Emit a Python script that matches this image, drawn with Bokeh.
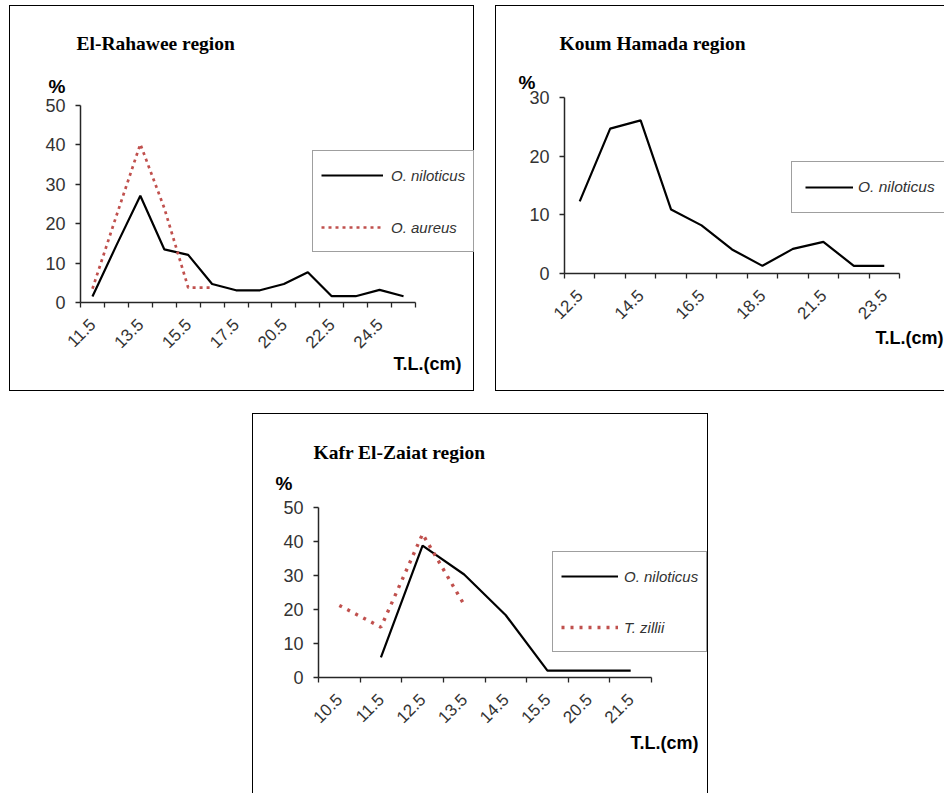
import math
from bokeh.plotting import figure
from bokeh.models import Range1d, FixedTicker, Label, Legend, LegendItem, Spacer
from bokeh.layouts import row, column
from bokeh.embed import file_html
from bokeh.resources import INLINE

nan = float("nan")

# ---------------- data ----------------
# El-Rahawee region
rah_tl = ["11.5", "12.5", "13.5", "14.5", "15.5", "16.5", "17.5", "18.5",
          "20.5", "21.5", "22.5", "23.5", "24.5", "25.5"]
rah_shown = ["11.5", "13.5", "15.5", "17.5", "20.5", "22.5", "24.5"]
rah_niloticus = [1.5, 14.5, 27.1, 13.5, 12.1, 4.7, 3.1, 3.1, 4.7, 7.7, 1.6, 1.6, 3.2, 1.6]
rah_aureus = [3.5, 22.0, 40.2, 24.0, 3.8, 3.8, nan, nan, nan, nan, nan, nan, nan, nan]

# Koum Hamada region
kou_tl = ["12.5", "13.5", "14.5", "15.5", "16.5", "17.5", "18.5", "20.5",
          "21.5", "22.5", "23.5"]
kou_shown = ["12.5", "14.5", "16.5", "18.5", "21.5", "23.5"]
kou_niloticus = [12.3, 24.7, 26.1, 10.9, 8.2, 4.1, 1.3, 4.2, 5.4, 1.3, 1.3]

# Kafr El-Zaiat region
kaf_tl = ["10.5", "11.5", "12.5", "13.5", "14.5", "15.5", "20.5", "21.5"]
kaf_shown = kaf_tl
kaf_niloticus = [nan, 5.9, 38.8, 30.3, 18.3, 2.0, 2.0, 2.0]
kaf_zillii = [21.2, 14.8, 42.2, 21.4, nan, nan, nan, nan]

y_ticks_50 = [0, 10, 20, 30, 40, 50]
y_ticks_30 = [0, 10, 20, 30]

RED = "#c0504d"
TXT = "#333333"
AX = "#262626"


class Panel:
    """A figure whose frame fills the whole canvas; the axes sit inside it."""

    def __init__(self, cats, shown, ymax, yticks, canvas, plot_px, shadow):
        cx, cy, w, h = canvas            # canvas box on the page
        px0, px1, py0, py1 = plot_px     # pixel span of the axes (x0, x_end, y0, y_top)
        n = len(cats)
        self.cx, self.cy, self.w, self.h = cx, cy, w, h
        ux = (px1 - px0) / n
        uy = (py0 - py1) / ymax
        xr = Range1d((cx - px0) / ux, (cx + w - px0) / ux)
        yr = Range1d(-(cy + h - py0) / uy, (py0 - cy) / uy)
        p = figure(width=w, height=h, output_backend="svg", toolbar_location=None,
                   x_range=xr, y_range=yr, min_border=0,
                   min_border_left=0, min_border_right=0,
                   min_border_top=0, min_border_bottom=0,
                   background_fill_color=None, border_fill_color=None,
                   outline_line_color=None)
        p.grid.visible = False
        p.styles = {"box-shadow": shadow}
        self.p = p
        self.xs = [i + 0.5 for i in range(n)]
        xs = self.xs

        xa = p.xaxis[0]
        xa.fixed_location = 0
        xa.bounds = (0, n)
        xa.ticker = FixedTicker(ticks=[xs[i] for i, c in enumerate(cats) if c in shown],
                                minor_ticks=list(range(n + 1)))
        xa.major_label_overrides = {xs[i]: c for i, c in enumerate(cats) if c in shown}
        xa.major_tick_line_color = None
        xa.minor_tick_in = 0
        xa.minor_tick_out = 5
        xa.minor_tick_line_color = AX
        xa.minor_tick_line_width = 1.3
        xa.axis_line_color = AX
        xa.axis_line_width = 1.5
        xa.major_label_orientation = math.pi / 4
        xa.major_label_text_font = "Liberation Sans"
        xa.major_label_text_font_size = "17px"
        xa.major_label_text_color = TXT
        xa.major_label_standoff = 13

        ya = p.yaxis[0]
        ya.fixed_location = 0
        ya.bounds = (0, ymax)
        ya.ticker = FixedTicker(ticks=yticks, minor_ticks=[])
        ya.major_tick_in = 0
        ya.major_tick_out = 5
        ya.major_tick_line_color = AX
        ya.major_tick_line_width = 1.3
        ya.axis_line_color = AX
        ya.axis_line_width = 1.5
        ya.major_label_text_font = "Liberation Sans"
        ya.major_label_text_font_size = "18px"
        ya.major_label_text_color = TXT
        ya.major_label_standoff = 10

    def text(self, ax, ay, text, font, size, style, color="#000000"):
        self.p.add_layout(Label(x=ax - self.cx, y=self.cy + self.h - ay,
                                x_units="screen", y_units="screen", text=text,
                                text_font=font, text_font_size=size,
                                text_font_style=style, text_color=color,
                                text_align="left", text_baseline="alphabetic"))

    def legend(self, items, left, bottom, padding, h, spacing, gw, standoff, fs="15px"):
        self.p.add_layout(Legend(
            items=items, location=(left - self.cx, self.cy + self.h - bottom),
            padding=padding, spacing=spacing, margin=0,
            glyph_width=gw, glyph_height=h, label_height=h, label_standoff=standoff,
            label_text_font="Liberation Sans", label_text_font_style="italic",
            label_text_font_size=fs, label_text_color=TXT,
            border_line_color="#404040", border_line_width=1.5,
            background_fill_color="white", background_fill_alpha=1.0))


# ---------------- panel 1: El-Rahawee ----------------
P1 = Panel(rah_tl, rah_shown, 50, y_ticks_50, (9, 5, 465, 386), (80, 415, 302, 105),
           "inset 0 0 0 1px #000")
r1a = P1.p.line(P1.xs, rah_niloticus, line_color="black", line_width=2.2)
r1b = P1.p.line(P1.xs, rah_aureus, line_color=RED, line_width=2.7, line_dash="3 4")
P1.legend([LegendItem(label="O. niloticus", renderers=[r1a]),
           LegendItem(label="O. aureus", renderers=[r1b])],
          312, 252, 8, 32, 20, 62, 8)
P1.text(76, 43, "El-Rahawee region", "Liberation Serif", "19.5px", "bold")
P1.text(48, 86, "%", "Liberation Sans", "19px", "bold")
P1.text(393, 363, "T.L.(cm)", "Liberation Sans", "18px", "bold")

# ---------------- panel 2: Koum Hamada ----------------
P2 = Panel(kou_tl, kou_shown, 30, y_ticks_30, (495, 5, 449, 386), (564, 899, 273, 97),
           "inset 1px 1px 0 0 #000, inset 0 -1px 0 0 #000")
r2a = P2.p.line(P2.xs, kou_niloticus, line_color="black", line_width=2.2)
P2.legend([LegendItem(label="O. niloticus", renderers=[r2a])],
          791, 213, 13, 24, 0, 48, 5, "15.5px")
P2.text(559, 43, "Koum Hamada  region", "Liberation Serif", "19.5px", "bold")
P2.text(518, 82, "%", "Liberation Sans", "19px", "bold")
P2.text(875, 337, "T.L.(cm)", "Liberation Sans", "18px", "bold")

# ---------------- panel 3: Kafr El-Zaiat ----------------
P3 = Panel(kaf_tl, kaf_shown, 50, y_ticks_50, (252, 413, 456, 380), (318, 651, 677, 507),
           "inset 1px 1px 0 0 #000, inset -1px 0 0 0 #000")
r3a = P3.p.line(P3.xs, kaf_niloticus, line_color="black", line_width=2.2)
r3b = P3.p.line(P3.xs, kaf_zillii, line_color=RED, line_width=3.4, line_dash="3 6")
P3.legend([LegendItem(label="O. niloticus", renderers=[r3a]),
           LegendItem(label="T. zillii", renderers=[r3b])],
          552, 652, 8, 32, 19, 57, 6)
P3.text(313, 452, "Kafr  El-Zaiat region", "Liberation Serif", "19.5px", "bold")
P3.text(275, 483, "%", "Liberation Sans", "19px", "bold")
P3.text(630, 742, "T.L.(cm)", "Liberation Sans", "18px", "bold")

layout = column(Spacer(width=10, height=5),
                row(Spacer(width=9, height=10), P1.p, Spacer(width=21, height=10), P2.p),
                Spacer(width=10, height=22),
                row(Spacer(width=252, height=10), P3.p))

open("out.html", "w").write(file_html(layout, INLINE))
